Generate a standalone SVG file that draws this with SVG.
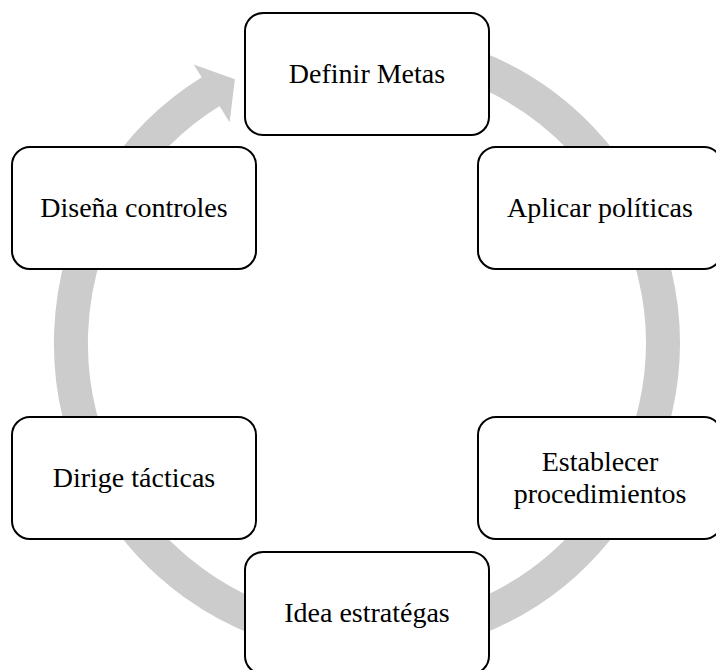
<svg xmlns="http://www.w3.org/2000/svg" width="716" height="670" viewBox="0 0 716 670">
<style>
.node rect{fill:#fff;stroke:#000;stroke-width:2}
.node text{font-family:"Liberation Serif","Times New Roman",serif;font-size:28px;fill:#000;text-anchor:middle}
.ring{fill:none;stroke:#cccccc;stroke-width:34}
.head{fill:#cccccc}
</style>
<rect width="716" height="670" fill="#fff"/>
<g id="connectors">
<path class="ring" d="M315.6,51.5 A296,296 0 1 1 211.5,91.1"/>
<polygon class="head" points="229.6,122.3 193.7,64.5 234.9,79.2"/>
</g>
<g id="node-definir" class="node"><rect x="245" y="13" width="244" height="122" rx="18"/><text x="367" y="83">Definir Metas</text></g>
<g id="node-aplicar" class="node"><rect x="478" y="147" width="244" height="122" rx="18"/><text x="600" y="217">Aplicar políticas</text></g>
<g id="node-establecer" class="node"><rect x="478" y="417" width="244" height="122" rx="18"/><text x="600" y="471">Establecer</text><text x="600" y="503">procedimientos</text></g>
<g id="node-idea" class="node"><rect x="245" y="552" width="244" height="122" rx="18"/><text x="367" y="622">Idea estratégas</text></g>
<g id="node-dirige" class="node"><rect x="12" y="417" width="244" height="122" rx="18"/><text x="134" y="487">Dirige tácticas</text></g>
<g id="node-disena" class="node"><rect x="12" y="147" width="244" height="122" rx="18"/><text x="134" y="217">Diseña controles</text></g>
</svg>
